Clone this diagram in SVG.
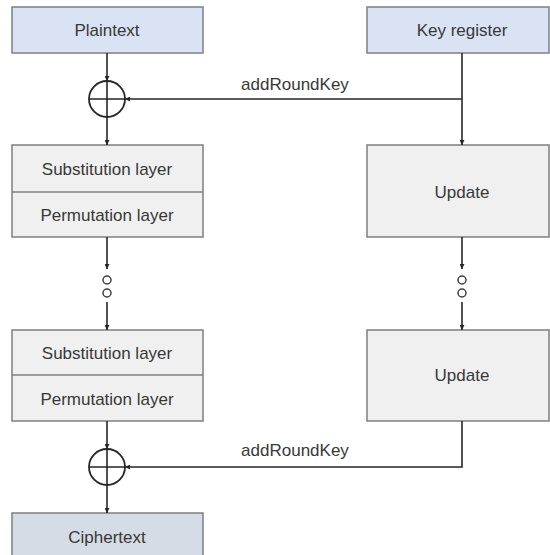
<svg xmlns="http://www.w3.org/2000/svg" width="550" height="555" viewBox="0 0 550 555">
<style>
.box{stroke:#7f7f7f;stroke-width:1.5}
.io{fill:#dae3f3}
.out{fill:#d6dce5}
.blk{fill:#f0f0f0}
.t{font-family:"Liberation Sans",Arial,sans-serif;font-size:17px;fill:#383838;text-anchor:middle;dominant-baseline:central}
.ln{stroke:#262626;stroke-width:1.6;fill:none}
.xor{stroke:#262626;stroke-width:1.8;fill:#fff}
.dot{stroke:#404040;stroke-width:1.5;fill:#fff}
</style>
<defs>
<marker id="ah" viewBox="0 0 10 10" refX="10" refY="5" markerWidth="5" markerHeight="5" orient="auto" markerUnits="userSpaceOnUse"><path d="M0,0 L10,5 L0,10 z" fill="#262626"/></marker>
</defs>
<rect width="550" height="555" fill="#fff"/>
<g id="plaintext"><rect class="box io" x="12" y="7" width="191" height="46"/><text class="t" x="107" y="30">Plaintext</text></g>
<g id="key-register"><rect class="box io" x="367" y="7" width="182" height="46"/><text class="t" x="462" y="30">Key register</text></g>
<g id="sp1"><rect class="box blk" x="12" y="145" width="191" height="92"/><line class="box" x1="12" y1="192" x2="203" y2="192"/><text class="t" x="107" y="169">Substitution layer</text><text class="t" x="107" y="215">Permutation layer</text></g>
<g id="update1"><rect class="box blk" x="367" y="145" width="182" height="92"/><text class="t" x="462" y="192">Update</text></g>
<g id="sp2"><rect class="box blk" x="12" y="330" width="191" height="91"/><line class="box" x1="12" y1="375" x2="203" y2="375"/><text class="t" x="107" y="353">Substitution layer</text><text class="t" x="107" y="399">Permutation layer</text></g>
<g id="update2"><rect class="box blk" x="367" y="330" width="182" height="91"/><text class="t" x="462" y="375">Update</text></g>
<g id="ciphertext"><rect class="box out" x="12" y="513" width="191" height="50"/><text class="t" x="107" y="537">Ciphertext</text></g>
<g id="xor1"><circle class="xor" cx="107" cy="99" r="18"/><line class="ln" x1="89" y1="99" x2="125" y2="99"/><line class="ln" x1="107" y1="81" x2="107" y2="117"/></g>
<g id="xor2"><circle class="xor" cx="107" cy="467" r="18"/><line class="ln" x1="89" y1="467" x2="125" y2="467"/><line class="ln" x1="107" y1="449" x2="107" y2="485"/></g>
<g id="dots1"><circle class="dot" cx="107" cy="280" r="4"/><circle class="dot" cx="107" cy="293" r="4"/></g>
<g id="dots2"><circle class="dot" cx="462" cy="280" r="4"/><circle class="dot" cx="462" cy="293" r="4"/></g>
<g id="connectors">
<line class="ln" x1="107" y1="53" x2="107" y2="81" marker-end="url(#ah)"/>
<line class="ln" x1="107" y1="117" x2="107" y2="145" marker-end="url(#ah)"/>
<line class="ln" x1="462" y1="53" x2="462" y2="145" marker-end="url(#ah)"/>
<line class="ln" x1="462" y1="99" x2="125" y2="99" marker-end="url(#ah)"/>
<text class="t" x="295" y="84">addRoundKey</text>
<line class="ln" x1="107" y1="237" x2="107" y2="269" marker-end="url(#ah)"/>
<line class="ln" x1="107" y1="302" x2="107" y2="330" marker-end="url(#ah)"/>
<line class="ln" x1="462" y1="237" x2="462" y2="269" marker-end="url(#ah)"/>
<line class="ln" x1="462" y1="302" x2="462" y2="330" marker-end="url(#ah)"/>
<line class="ln" x1="107" y1="421" x2="107" y2="449" marker-end="url(#ah)"/>
<polyline class="ln" points="462,421 462,467 125,467" marker-end="url(#ah)"/>
<text class="t" x="295" y="450">addRoundKey</text>
<line class="ln" x1="107" y1="485" x2="107" y2="513" marker-end="url(#ah)"/>
</g>
</svg>
